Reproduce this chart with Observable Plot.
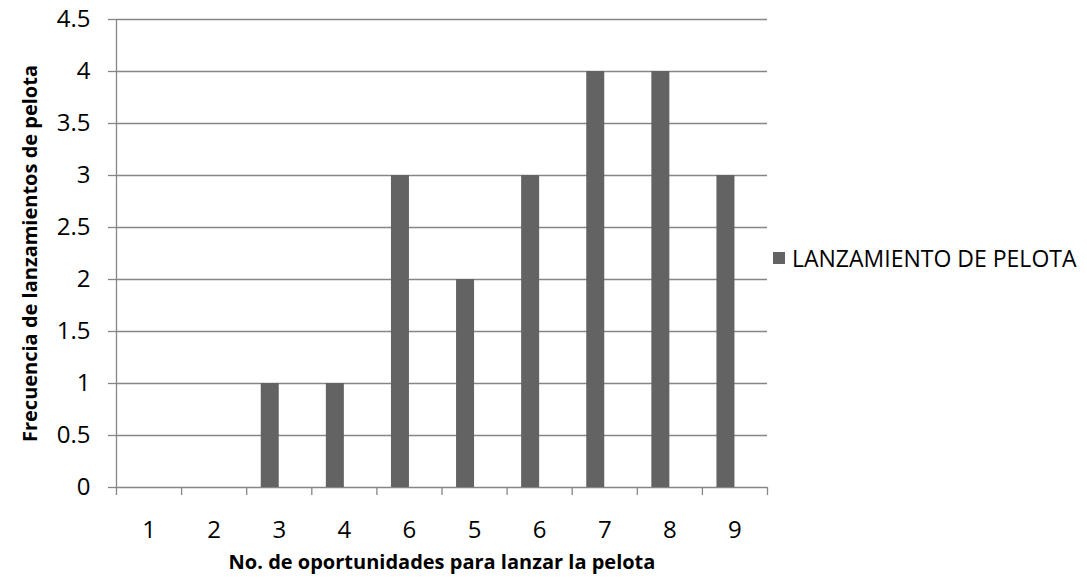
<!DOCTYPE html>
<html><head><meta charset="utf-8">
<script src="https://cdn.jsdelivr.net/npm/d3@7"></script>
<script src="https://cdn.jsdelivr.net/npm/@observablehq/plot@0.6"></script>
<style>
body{margin:0;background:#fff;font-family:"Open Sans",sans-serif;}
#wrap{position:relative;width:1087px;height:580px;}
#wrap svg text{font-family:"Open Sans",sans-serif;fill:#000;}
#legend{position:absolute;left:773px;top:243px;font-size:23px;line-height:30px;color:#000;display:flex;align-items:center;white-space:nowrap;}
#legend span.sw{display:inline-block;width:12px;height:12px;background:#636363;margin-right:7px;}
</style></head>
<body><div id="wrap"></div>
<script>
const categories = ["1","2","3","4","6","5","6","7","8","9"];
const values = [0,0,1,1,3,2,3,4,4,3];
const yTicks = [0,0.5,1,1.5,2,2.5,3,3.5,4,4.5];
const seriesName = "LANZAMIENTO DE PELOTA";
const xTitle = "No. de oportunidades para lanzar la pelota";
const yTitle = "Frecuencia de lanzamientos de pelota";

const data = categories.map((c,i)=>({i, label:c, value:values[i]}));
const bandW = 651/10;
const barW = 18;
const gridColor = "#868686";

const chart = Plot.plot({
  width:1087, height:580,
  marginLeft:116, marginRight:320, marginTop:19, marginBottom:93,
  style:{fontFamily:"'Open Sans', sans-serif", fontSize:"20px", color:"#000", background:"#fff"},
  x:{domain:[0,categories.length], axis:null},
  y:{domain:[0,4.5], axis:null},
  marks:[
    Plot.ruleY(yTicks, {x1:0, x2:categories.length, stroke:gridColor, strokeWidth:1.3}),
    Plot.ruleX([0], {y1:0, y2:4.5, stroke:gridColor, strokeWidth:1.3}),
    Plot.rectY(data, {x1:d=>d.i, x2:d=>d.i+1, y:"value", fill:"#636363",
      insetLeft:bandW/2-barW, insetRight:bandW/2}),
    Plot.axisY({ticks:yTicks, tickSize:8, tickPadding:18, stroke:gridColor, strokeWidth:1.3,
      tickFormat:d=>String(d), label:null, fontSize:24}),
    Plot.axisX({ticks:d3.range(categories.length+1), tickSize:8, stroke:gridColor, strokeWidth:1.3,
      tickFormat:()=>"", label:null}),
    Plot.axisX({ticks:categories.map((c,i)=>i+0.5), tickSize:0, tickPadding:33,
      tickFormat:v=>categories[Math.floor(v)], label:null, fontSize:24}),
    Plot.text([xTitle], {frameAnchor:"bottom", dy:81, text:d=>d, fontWeight:"bold", fontSize:20}),
    Plot.text([yTitle], {frameAnchor:"left", textAnchor:"middle", rotate:-90, dx:-86, text:d=>d, fontWeight:"bold", fontSize:20})
  ]
});
const wrap = document.getElementById("wrap");
wrap.appendChild(chart);
const lg = document.createElement("div");
lg.id="legend";
lg.innerHTML = '<span class="sw"></span>' + seriesName;
wrap.appendChild(lg);
</script></body></html>
